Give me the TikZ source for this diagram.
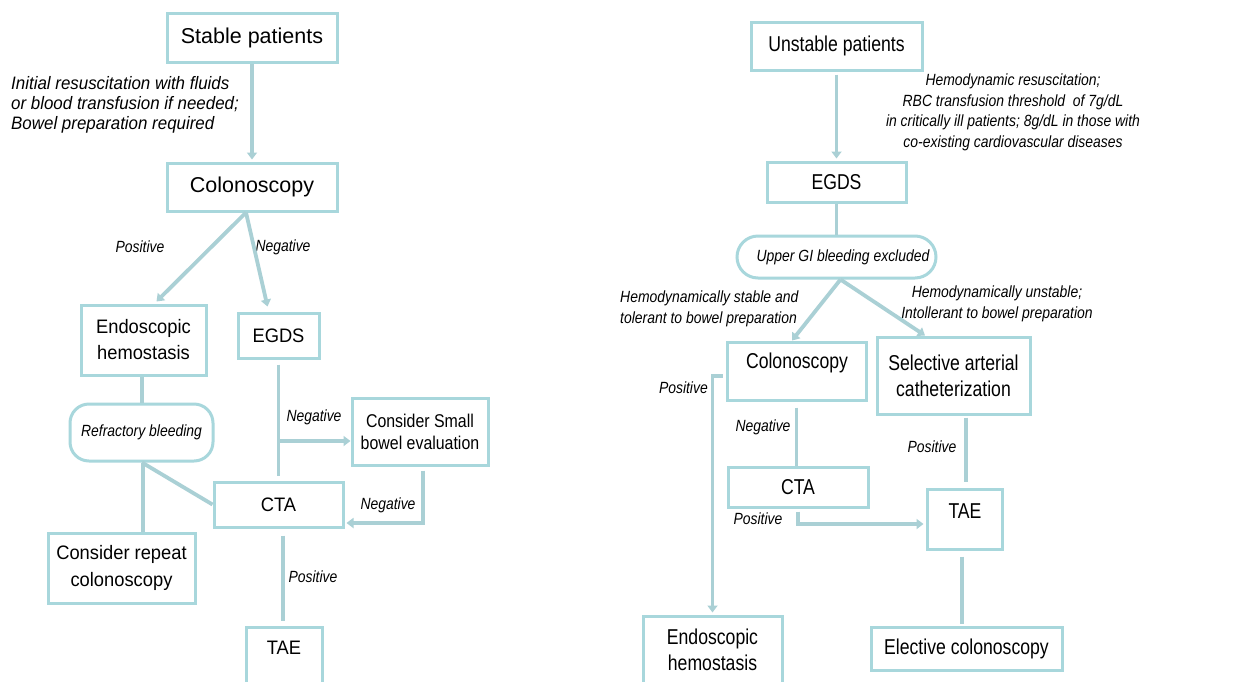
\documentclass[tikz,border=0pt]{standalone}
\usepackage{fontspec}
\setmainfont{Liberation Sans}
\newfontfamily\cndA[FakeStretch=0.82]{Liberation Sans}
\newfontfamily\cndB[FakeStretch=0.86]{Liberation Sans}
\newfontfamily\cndC[FakeStretch=0.94]{Liberation Sans}
\usetikzlibrary{arrows.meta}
\definecolor{tl}{RGB}{168,215,220}
\definecolor{tln}{RGB}{170,208,213}
\tikzset{
  bx/.style={draw=tl, line width=3pt, rectangle, inner sep=0pt, align=center, fill=white},
  rbx/.style={bx, rounded corners=19pt},
  big/.style={font=\fontsize{21.5}{25}\selectfont},
  med/.style={font=\cndC\fontsize{19.5}{26}\selectfont},
  rmed/.style={font=\cndA\fontsize{21.5}{26}\selectfont},
  sml/.style={font=\cndB\fontsize{18.5}{22}\selectfont},
  lab/.style={font=\cndB\fontsize{16.2}{20.5}\selectfont\itshape, inner sep=0pt, align=center},
  conn/.style={draw=tln, line width=3.8pt},
  arr/.style={conn, -{Triangle[length=7pt,width=10pt]}},
}
\begin{document}
\begin{tikzpicture}[x=1pt,y=-1pt]
\useasboundingbox (0,0) rectangle (1259,681);
\clip (0,0) rectangle (1259,681);
\fill[white] (0,0) rectangle (1259,681);

% ---------------- left side ----------------
\node[bx, big, minimum width=170, minimum height=49] (sp) at (252,37.5) {Stable patients};
\node[bx, big, minimum width=170, minimum height=48] (col1) at (252,187) {Colonoscopy};
\node[bx, med, minimum width=125, minimum height=70] (endo1) at (143.5,340) {Endoscopic\\hemostasis};
\node[bx, med, minimum width=81, minimum height=45] (egds1) at (278.5,335.5) {EGDS};
\node[rbx, lab, minimum width=143, minimum height=57] (refr) at (141.5,432.5) {Refractory bleeding};
\node[bx, sml, minimum width=136, minimum height=67] (small) at (420,431.5) {Consider Small\\bowel evaluation};
\node[bx, med, minimum width=129, minimum height=45] (cta1) at (278.5,504.5) {CTA};
\node[bx, med, font=\cndC\fontsize{19.5}{27}\selectfont, minimum width=147, minimum height=70] (rep) at (121.5,568) {Consider repeat\\colonoscopy};
\node[bx, minimum width=76, minimum height=73] (tae1) at (284,663.5) {};
\node[med, inner sep=0pt] (tae1t) at (284,648) {TAE};

\node[font=\cndC\fontsize{18}{20}\selectfont\itshape, inner sep=0pt, align=left, anchor=west] (l1) at (11,105)
  {Initial resuscitation with fluids\\or blood transfusion if needed;\\Bowel preparation required};
\node[lab] (lp1) at (140,247) {Positive};
\node[lab] (ln1) at (283,247) {Negative};
\node[lab] (ln2) at (314,417) {Negative};
\node[lab] (ln3) at (388,505) {Negative};
\node[lab] (lp2) at (313,577) {Positive};

\draw[arr, shorten >=2pt] (sp.south) -- (col1.north);
\draw[arr] ([xshift=-6pt]col1.south) -- ([xshift=13pt,yshift=2pt]endo1.north);
\draw[arr] ([xshift=-6pt]col1.south) -- ([xshift=-11pt,yshift=5pt]egds1.north);
\draw[conn] ([xshift=-1.5pt]endo1.south) -- ([xshift=-1.5pt]endo1.south |- refr.north);
\draw[conn, shorten <=5pt, shorten >=5pt] (egds1.south) -- (egds1.south |- cta1.north);
\coordinate (b1) at (278.5,441);
\draw[arr] (b1) -- (b1 -| small.west);
\draw[arr] ([xshift=3pt,yshift=-4pt]small.south) |- ([xshift=2pt,yshift=-18.5pt]cta1.east);
\draw[conn] ([xshift=0.5pt]refr.south) -- (cta1.west);
\draw[conn] ([xshift=1.5pt]refr.south) -- ([xshift=1.5pt]refr.south |- rep.north);
\draw[conn, shorten <=7pt, shorten >=5pt] ([xshift=4.5pt]cta1.south) -- ([xshift=4.5pt]cta1.south |- tae1.north);

% ---------------- right side ----------------
\node[bx, rmed, minimum width=171, minimum height=48] (usp) at (836.5,46) {Unstable patients};
\node[bx, rmed, minimum width=139, minimum height=40] (egds2) at (836.5,182) {EGDS};
\node[rbx, minimum width=199, minimum height=42, rounded corners=21pt] (ugi) at (836.5,257) {};
\node[lab] (ugit) at (843,257) {Upper GI bleeding excluded};
\node[bx, minimum width=139, minimum height=58] (col2) at (796.5,371) {};
\node[rmed, inner sep=0pt] (col2t) at (797,363) {Colonoscopy};
\node[bx, rmed, minimum width=153, minimum height=77] (sel) at (953.5,375.5) {Selective arterial\\catheterization};
\node[bx, rmed, minimum width=140, minimum height=40] (cta2) at (798,487) {CTA};
\node[bx, minimum width=75, minimum height=60] (tae2) at (964.5,519) {};
\node[rmed, inner sep=0pt] (tae2t) at (965,511) {TAE};
\node[bx, rmed, minimum width=191, minimum height=43] (elec) at (966.5,648.5) {Elective colonoscopy};
\node[bx, minimum width=139, minimum height=84] (endo2) at (712.5,658) {};
\node[rmed, inner sep=0pt, align=center] (endo2t) at (712.5,650) {Endoscopic\\hemostasis};

\node[lab] (rl1) at (1013,112.5) {Hemodynamic resuscitation;\\RBC transfusion threshold \ of 7g/dL\\in critically ill patients; 8g/dL in those with\\co-existing cardiovascular diseases};
\node[lab, align=left, anchor=west] (rl2) at (620,309) {Hemodynamically stable and\\tolerant to bowel preparation};
\node[lab] (rl3) at (997,304) {Hemodynamically unstable;\\Intollerant to bowel preparation};
\node[lab, anchor=east] (rp1) at (708,388) {Positive};
\node[lab] (rn1) at (763,427) {Negative};
\node[lab] (rp2) at (758,519) {Positive};
\node[lab] (rp3) at (932,447) {Positive};

\draw[arr, shorten <=3pt, shorten >=2pt] (usp.south) -- (egds2.north);
\draw[conn] (egds2.south) -- (ugi.north);
\draw[arr] ([xshift=4pt]ugi.south) -- ([xshift=-4.5pt]col2.north);
\draw[arr] ([xshift=4pt]ugi.south) -- ([xshift=-28.5pt]sel.north);
\draw[arr] ([xshift=-3pt,yshift=-5pt]col2.west) -| ([yshift=2pt]endo2.north);
\draw[conn, shorten <=6pt] (col2.south) -- (col2.south |- cta2.north);
\draw[arr, shorten <=3pt] (cta2.south) |- ([xshift=-2pt,yshift=-5pt]tae2.west);
\draw[conn, shorten <=2pt, shorten >=6pt] ([xshift=1.5pt]tae2.north |- sel.south) -- ([xshift=1.5pt]tae2.north);
\draw[conn, shorten <=6pt, shorten >=2pt] ([xshift=-2.5pt]tae2.south) -- ([xshift=-2.5pt]tae2.south |- elec.north);
\end{tikzpicture}
\end{document}
